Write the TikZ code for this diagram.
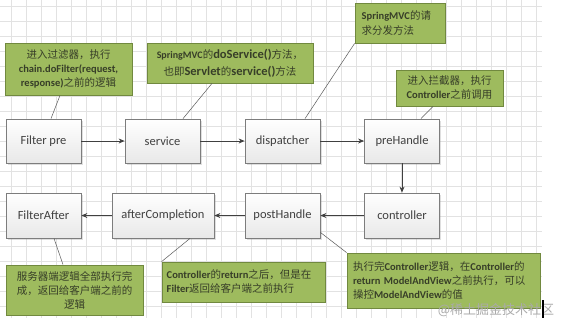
\documentclass[tikz,border=0pt]{standalone}
\usepackage{fontspec}
\setmainfont{Carlito}
\newfontfamily\cjk{Noto Sans CJK SC}
\newcommand\zh[1]{{\cjk\mdseries #1}}
\usetikzlibrary{arrows.meta,shadows}
\definecolor{gridc}{RGB}{226,226,226}
\definecolor{boxline}{RGB}{125,125,125}
\definecolor{txt}{RGB}{64,64,64}
\definecolor{cfill}{RGB}{158,187,94}
\definecolor{cline}{RGB}{113,137,63}
\definecolor{ctxt}{RGB}{55,62,40}
\definecolor{lead}{RGB}{90,90,90}
\definecolor{wm}{RGB}{170,170,170}
\begin{document}
\begin{tikzpicture}[x=1pt,y=-1pt,
  stepbox/.style={draw=boxline, line width=0.8pt, top color=white, bottom color=black!9,
    minimum width=75pt, minimum height=44pt, inner sep=0pt,
    font=\fontsize{12.5}{14}\selectfont, text=txt,
    drop shadow={shadow xshift=1.5pt, shadow yshift=-1.5pt, opacity=0.25}},
  note/.style={draw=cline, line width=0.8pt, fill=cfill, inner ysep=0pt, text=ctxt,
    font=\fontsize{10.5}{14}\selectfont\bfseries,
    drop shadow={shadow xshift=1.2pt, shadow yshift=-1.2pt, opacity=0.3}},
  flow/.style={draw=txt, line width=0.8pt, -{Stealth[length=6pt,width=5pt]}},
  leader/.style={draw=lead, line width=0.5pt}]
\useasboundingbox (0,0) rectangle (561,327);
\fill[white] (0,0) rectangle (561,327);
% grid
\foreach \x in {0,...,35} \draw[gridc, line width=0.5pt] (11.7+15*\x,0) -- (11.7+15*\x,318);
\foreach \y in {0,...,20} \draw[gridc, line width=0.5pt] (0,6.7+15*\y) -- (542,6.7+15*\y);
% flow boxes
\node[stepbox] (fpre) at (43.5,141) {Filter pre};
\node[stepbox] (serv) at (162.5,141) {service};
\node[stepbox] (disp) at (282.5,141) {dispatcher};
\node[stepbox] (preh) at (402,141) {preHandle};
\node[stepbox, minimum height=45pt] (fafter) at (43.5,215.5) {FilterAfter};
\node[stepbox, minimum height=45pt, minimum width=102pt] (aftc) at (163,215.5) {afterCompletion};
\node[stepbox, minimum height=45pt] (posth) at (282.5,215.5) {postHandle};
\node[stepbox, minimum height=45pt] (ctrl) at (402,215.5) {controller};
% arrows
\draw[flow] (fpre) -- (serv);
\draw[flow] (serv) -- (disp);
\draw[flow] (disp) -- (preh);
\draw[flow] (preh) -- (ctrl);
\draw[flow] (ctrl) -- (posth);
\draw[flow] (posth) -- (aftc);
\draw[flow] (aftc) -- (fafter);
% callouts
\node[note, minimum width=127pt, minimum height=52pt, align=center] (c1) at (68.5,69)
  {\zh{进入过滤器，执行}\\chain.doFilter(request,\\response)\zh{之前的逻辑}};
\node[note, minimum width=166pt, minimum height=40pt, align=center,
  font=\fontsize{10.5}{17}\selectfont\bfseries] (c2) at (230,63)
  {{\fontsize{10}{17}\selectfont SpringMVC}\zh{的}{\fontsize{12.5}{17}\selectfont doService()}\zh{方法，}\\
   \zh{也即}{\fontsize{12.5}{17}\selectfont Servlet}\zh{的}{\fontsize{12.5}{17}\selectfont service()}\zh{方法}};
\node[note, inner xsep=6.7pt, text width=76.6pt, minimum height=40pt, align=left,
  font=\fontsize{10.5}{15}\selectfont\bfseries] (c3) at (400,23)
  {SpringMVC\zh{的请}\\\zh{求分发方法}};
\node[note, minimum width=107pt, minimum height=36pt, align=center] (c4) at (449.5,88)
  {\zh{进入拦截器，执行}\\Controller\zh{之前调用}};
\node[note, minimum width=137pt, minimum height=50pt, align=center] (c5) at (74.5,290)
  {\zh{服务器端逻辑全部执行完}\\\zh{成，返回给客户端之前的}\\\zh{逻辑}};
\node[note, inner xsep=4.7pt, text width=153.6pt, minimum height=40pt, align=left] (c6) at (243.5,282)
  {Controller\zh{的}return\zh{之后，但是在}\\Filter\zh{返回给客户端之前执行}};
\node[note, inner xsep=6pt, text width=181pt, minimum height=55pt, align=left] (c7) at (443.5,280.5)
  {\zh{执行完}Controller\zh{逻辑，在}Controller\zh{的}\\return ModelAndView\zh{之前执行，可以}\\\zh{操控}ModelAndView\zh{的值}};
% leader lines
\draw[leader] ([xshift=-8.5pt]c1.south) -- ([xshift=7.5pt]fpre.north);
\draw[leader] ([xshift=-18pt]c2.south) -- ([xshift=20.5pt]serv.north);
\draw[leader] (c3.south west) -- ([xshift=22.5pt]disp.north);
\draw[leader] ([xshift=-16.5pt]c4.south) -- ([xshift=19pt]preh.north);
\draw[leader] ([xshift=10.5pt]fafter.south) -- ([xshift=-11.5pt]c5.north);
\draw[leader] ([xshift=27pt]aftc.south) -- (c6.north west);
\draw[leader] ([yshift=6pt]posth.south east) -- (c7.north west);
% watermark
\node[text=wm, font=\cjk\fontsize{13}{14}\selectfont, inner sep=0pt] (wmk) at (496,310) {@稀土掘金技术社区};
\coordinate (cur) at (543,309);
\draw[black, line width=1.3pt] ([yshift=9pt]cur) -- ([yshift=-9pt]cur);
\end{tikzpicture}
\end{document}
